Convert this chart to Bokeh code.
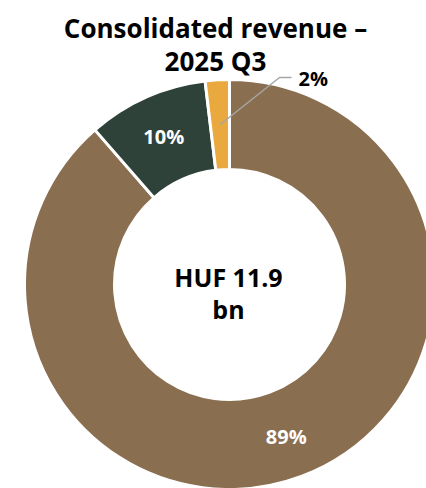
import math
from bokeh.plotting import figure
from bokeh.models import ColumnDataSource
from bokeh.core.properties import value
from bokeh.embed import file_html
from bokeh.resources import INLINE

# Data
segments = ["Other", "Segment B", "Segment C"]
shares = [88.6, 9.5, 1.9]
labels = ["89%", "10%", "2%"]
colors = ["#8A6E50", "#2F4239", "#E9A93F"]
title_lines = ["Consolidated revenue \u2013", "2025 Q3"]
center_lines = ["HUF 11.9", "bn"]

W, H = 426, 488
OX, OY = 0, 0  # observed page offset of figure


def P(x, y):
    """page pixel -> figure data coords"""
    return x - OX, H - (y - OY)


cx, cy = P(229, 284)
r_in, r_out = 115, 205
FONT = "Open Sans"

total = sum(shares)
starts, ends = [], []
a = math.pi / 2
for s in shares:
    starts.append(a)
    a -= s / total * 2 * math.pi
    ends.append(a)

src = ColumnDataSource(dict(seg=segments, share=shares, start=starts, end=ends, color=colors))

p = figure(width=W, height=H, x_range=(0, W), y_range=(0, H), output_backend="svg",
           toolbar_location=None, min_border=0, outline_line_color=None)
p.axis.visible = False
p.grid.visible = False
p.background_fill_color = "white"
p.border_fill_color = "white"

p.annular_wedge(x=cx, y=cy, inner_radius=r_in, outer_radius=r_out,
                start_angle="start", end_angle="end", direction="clock",
                fill_color="color", line_color="white", line_width=3, source=src)

# Labels inside slices
r_lab = (r_in + r_out) / 2 + 2
for i in (0, 1):
    mid = (starts[i] + ends[i]) / 2
    p.text(x=[cx + r_lab * math.cos(mid)], y=[cy + r_lab * math.sin(mid)], text=[labels[i]],
           text_font=value(FONT), text_font_style="bold", text_font_size="20px",
           text_color="white", text_align="center", text_baseline="middle")

# Outside label for small slice with leader line
mid = (starts[2] + ends[2]) / 2
r_pt = r_out - 45
px, py = cx + r_pt * math.cos(mid), cy + r_pt * math.sin(mid)
k1 = P(279, 77)
k2 = P(291, 77)
p.line(x=[px, k1[0], k2[0]], y=[py, k1[1], k2[1]], line_color="#A6A6A6", line_width=1.5)
lx, ly = P(298, 78)
p.text(x=[lx], y=[ly], text=[labels[2]], text_font=value(FONT), text_font_style="bold",
       text_font_size="20px", text_color="black", text_align="left", text_baseline="middle")

# Title
t1 = P(215, 27)
t2 = P(215, 60)
p.text(x=[t1[0], t2[0]], y=[t1[1], t2[1]], text=title_lines, text_font=value(FONT),
       text_font_style="bold", text_font_size="26px", text_color="black",
       text_align="center", text_baseline="middle")

# Center text
c1 = P(228, 276)
c2 = P(228, 308)
p.text(x=[c1[0], c2[0]], y=[c1[1], c2[1]], text=center_lines, text_font=value(FONT),
       text_font_style="bold", text_font_size="25px", text_color="black",
       text_align="center", text_baseline="middle")

open("out.html", "w").write(file_html(p, INLINE))
